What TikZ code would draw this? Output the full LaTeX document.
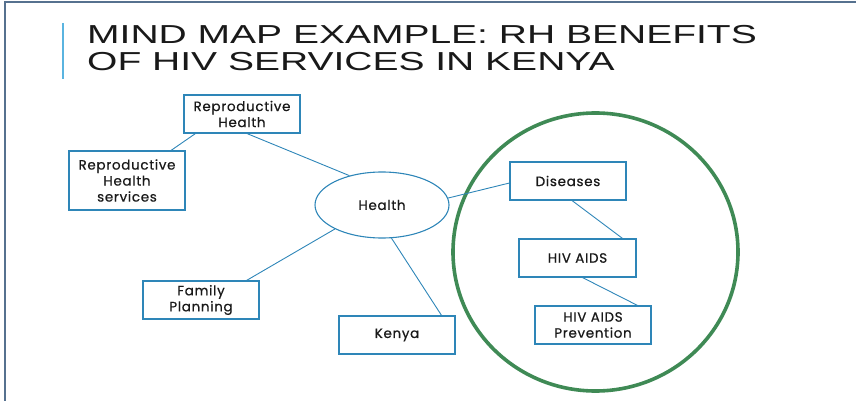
\documentclass[tikz,border=0pt]{standalone}
\usepackage{fontspec}
\usetikzlibrary{shapes.geometric}
\newfontfamily\titlefont[FakeStretch=1.5]{Liberation Sans}
\newfontfamily\boxfont[LetterSpace=5,FakeBold=0.6]{Poppins}
\definecolor{linkblue}{HTML}{2E86B8}
\definecolor{ringgreen}{HTML}{3F8A55}
\definecolor{framegray}{HTML}{56718F}
\definecolor{barblue}{HTML}{5AB4E0}
\begin{document}
\begin{tikzpicture}[x=1pt,y=-1pt, every node/.style={inner sep=0pt,text=black!90},
  topic/.style={draw=linkblue,line width=1.1pt,minimum width=116pt,minimum height=38pt,align=center,font=\boxfont\fontsize{13.5}{16}\selectfont},
  link/.style={draw=linkblue,line width=0.9pt},
  heading/.style={anchor=base west,font=\titlefont\fontsize{26}{26}\selectfont}]
  \useasboundingbox (0,0) rectangle (856,401);
  % frame and title
  \draw [framegray,line width=2pt] (5,401) -- (5,2) -- (856,2);
  \draw [barblue,line width=1.8pt] (63,23) -- (63,79);
  \node [heading] (title1) at (87,44) {MIND MAP EXAMPLE: RH BENEFITS};
  \node [heading] (title2) at (87,71) {OF HIV SERVICES IN KENYA};
  % nodes
  \node [topic] (rh) at (242,114) {Reproductive\\Health};
  \node [topic,minimum height=59pt] (rhs) at (127,180.5) {Reproductive\\Health\\services};
  \node [draw=linkblue,line width=1.1pt,ellipse,minimum width=134pt,minimum height=66pt,font=\boxfont\fontsize{13.5}{16}\selectfont] (health) at (382,205) {Health};
  \node [topic] (fam) at (201,300) {Family\\Planning};
  \node [topic] (ken) at (397,335) {Kenya};
  \node [topic] (dis) at (568,181) {Diseases};
  \node [topic,minimum width=117pt] (hiv) at (577.5,258) {HIV AIDS};
  \node [topic] (prev) at (593,325) {HIV AIDS\\Prevention};
  \node [draw=ringgreen,line width=3.6pt,ellipse,minimum width=285pt,minimum height=278pt,outer sep=0pt] (ring) at (595.5,252) {};
  % links
  \draw [link] ([xshift=12pt]rh.south west) edge ([xshift=44pt]rhs.north);
  \draw [link] ([xshift=5pt]rh.south) edge (health.138);
  \draw [link] (health.6) edge ([yshift=-2pt]dis.west);
  \draw [link] ([xshift=4pt]dis.south) edge ([xshift=-14pt]hiv.north east);
  \draw [link] ([xshift=5pt]hiv.south) edge ([xshift=-14pt]prev.north east);
  \draw [link] (health.207) edge ([xshift=-13pt]fam.north east);
  \draw [link] (health.286) edge ([xshift=-14pt]ken.north east);
\end{tikzpicture}
\end{document}
